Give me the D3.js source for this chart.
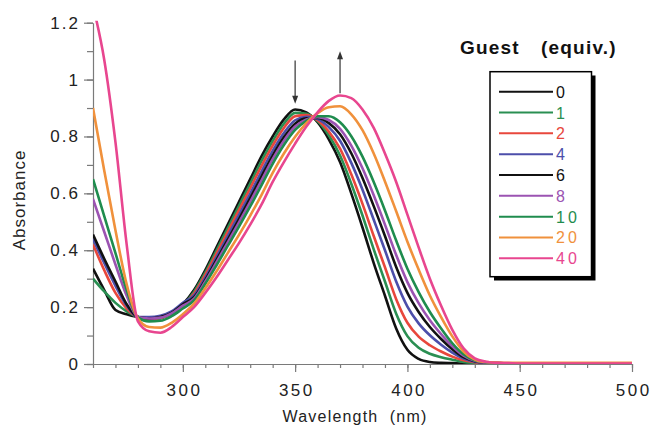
<!DOCTYPE html>
<html>
<head>
<meta charset="utf-8">
<script src="https://cdn.jsdelivr.net/npm/d3@7"></script>
<style>
  body { margin: 0; background: #fff; }
  text { font-family: "Liberation Sans", Arial, sans-serif; }
</style>
</head>
<body>
<div id="chart-area"></div>
<script>
// wavelength grid (nm)
const wavelengths = [260, 265, 270, 275, 280, 285, 290, 295, 300, 305, 310, 315, 320, 325, 330, 335, 340, 345, 350,
    355, 360, 365, 370, 375, 380, 385, 390, 395, 400, 405, 410, 415, 420, 425, 430, 435, 440, 445, 450, 475, 500];

// absorbance per guest equivalents
const g0 = [.335, .26, .19, .175, .165, .158, .162, .178, .21, .26, .33, .41, .49, .57, .65, .73, .80, .86, .895,
    .885, .85, .79, .71, .60, .48, .355, .24, .125, .05, .018, .007, .004, .003, .002, .002, .002, .002, .002, .002, .002, .002];
const g1 = [.30, .255, .215, .185, .165, .157, .16, .175, .205, .254, .322, .40, .478, .556, .634, .713, .784, .845, .883,
    .88, .854, .804, .733, .634, .522, .403, .29, .177, .098, .057, .036, .024, .015, .007, .004, .003, .002, .002, .002, .002, .002];
const g2 = [.42, .33, .25, .195, .165, .158, .162, .178, .205, .248, .314, .389, .465, .541, .618, .696, .768, .83, .871,
    .875, .857, .817, .757, .667, .563, .45, .34, .228, .145, .096, .066, .044, .026, .013, .006, .003, .002, .002, .002, .002, .002];
const g4 = [.44, .355, .275, .205, .165, .165, .17, .185, .215, .241, .304, .376, .45, .524, .599, .676, .749, .812, .857,
    .869, .861, .833, .785, .707, .613, .507, .40, .29, .202, .143, .101, .068, .04, .019, .008, .004, .003, .002, .002, .002, .002];
const g6 = [.455, .37, .29, .21, .165, .16, .165, .18, .21, .235, .296, .366, .437, .509, .583, .659, .733, .797, .845,
    .864, .865, .847, .808, .741, .654, .555, .45, .341, .25, .183, .13, .088, .052, .024, .01, .005, .003, .002, .002, .002, .002];
const g8 = [.58, .465, .35, .24, .165, .16, .163, .178, .205, .23, .29, .358, .428, .498, .57, .645, .72, .785, .835,
    .86, .868, .858, .827, .768, .688, .593, .49, .383, .288, .214, .154, .105, .062, .029, .011, .005, .003, .002, .002, .002, .002];
const g10 = [.65, .52, .39, .26, .163, .15, .152, .168, .195, .224, .282, .347, .415, .483, .554, .628, .704, .77, .823,
    .855, .871, .871, .85, .801, .729, .64, .54, .434, .335, .253, .183, .125, .073, .034, .013, .006, .003, .002, .002, .002, .002];
const g20 = [.90, .68, .47, .28, .16, .13, .128, .145, .175, .212, .266, .326, .39, .454, .522, .594, .672, .74, .799,
    .847, .882, .903, .906, .878, .822, .74, .642, .537, .43, .332, .241, .165, .097, .044, .016, .007, .005, .004, .004, .004, .004];
const g40 = [1.26, 1.07, .78, .42, .15, .115, .11, .13, .165, .20, .25, .305, .365, .425, .49, .56, .64, .71, .775,
    .835, .885, .925, .944, .935, .895, .83, .74, .64, .525, .41, .30, .205, .12, .055, .02, .008, .004, .003, .002, .002, .002];

const equivLabels = ["0", "1", "2", "4", "6", "8", "10", "20", "40"];
const seriesValues = [g0, g1, g2, g4, g6, g8, g10, g20, g40];
const colors = ["#111111", "#2a8f52", "#e8473c", "#4c4eaa", "#111111", "#9b53b2", "#1f8c4e", "#f0913c", "#e8468f"];

const xMajor = [300, 350, 400, 450, 500];
const yMajor = [0, 0.2, 0.4, 0.6, 0.8, 1, 1.2];
const yLabels = ["0", "0.2", "0.4", "0.6", "0.8", "1", "1.2"];

// arrows: [wavelength, from absorbance, to absorbance]
const arrows = [[350, 1.067, 0.915], [370, 0.952, 1.1]];

const W = 652, H = 427;
const margin = { top: 22.7, right: 20, bottom: 63, left: 93 };

const svg = d3.select("#chart-area").append("svg")
    .attr("width", W)
    .attr("height", H);

const x = d3.scaleLinear().domain([260, 500]).range([margin.left, 632]);
const y = d3.scaleLinear().domain([0, 1.2]).range([364, margin.top]);

svg.append("defs").append("clipPath")
    .attr("id", "plot-clip")
    .append("rect")
    .attr("x", x(260))
    .attr("y", y(1.2) - 2)
    .attr("width", x(500) - x(260) + 2)
    .attr("height", y(0) - y(1.2) + 2);

const axisColor = "#7a7a7a";

// minor ticks
svg.append("g")
    .attr("transform", `translate(0, ${y(0)})`)
    .call(d3.axisBottom(x).tickValues(d3.range(260, 501, 10)).tickSize(4).tickFormat(""))
    .call(g => g.select(".domain").remove());
svg.append("g")
    .attr("transform", `translate(${x(260)}, 0)`)
    .call(d3.axisLeft(y).tickValues(d3.range(0, 13, 1).map(d => d / 10)).tickSize(6).tickFormat(""))
    .call(g => g.select(".domain").remove());

// major axes
const xAxis = svg.append("g")
    .attr("transform", `translate(0, ${y(0)})`)
    .call(d3.axisBottom(x).tickValues(xMajor).tickSize(8).tickSizeOuter(0).tickPadding(12));
const yAxis = svg.append("g")
    .attr("transform", `translate(${x(260)}, 0)`)
    .call(d3.axisLeft(y).tickValues(yMajor).tickSize(9).tickSizeOuter(0).tickPadding(4)
        .tickFormat((d, i) => yLabels[i]));

svg.selectAll(".tick line, .domain").attr("stroke", axisColor).attr("stroke-width", 1.2);
xAxis.selectAll("text")
    .attr("font-size", 17)
    .attr("letter-spacing", "2.5px")
    .attr("dx", "1.2px")
    .attr("fill", "#222");
yAxis.selectAll("text")
    .attr("font-size", 17)
    .attr("letter-spacing", "2px")
    .attr("fill", "#222");

// curves
const line = d3.line()
    .x((d, i) => x(wavelengths[i]))
    .y(d => y(d))
    .curve(d3.curveMonotoneX);

svg.append("g")
    .attr("clip-path", "url(#plot-clip)")
    .selectAll("path")
    .data(seriesValues)
    .enter()
    .append("path")
    .attr("d", d => line(d))
    .attr("fill", "none")
    .attr("stroke", (d, i) => colors[i])
    .attr("stroke-width", 2.6)
    .attr("stroke-linejoin", "round");

// arrows
const arrowColor = "#333";
arrows.forEach(a => {
    const ax = x(a[0]), y1 = y(a[1]), y2 = y(a[2]);
    const dir = y2 > y1 ? 1 : -1;
    svg.append("line")
        .attr("x1", ax).attr("x2", ax)
        .attr("y1", y1).attr("y2", y2 - dir * 6)
        .attr("stroke", arrowColor)
        .attr("stroke-width", 1.2);
    svg.append("path")
        .attr("d", `M${ax},${y2} L${ax - 3},${y2 - dir * 8} L${ax + 3},${y2 - dir * 8} Z`)
        .attr("fill", arrowColor);
});

// axis labels
svg.append("text")
    .attr("x", 355)
    .attr("y", 422)
    .attr("text-anchor", "middle")
    .attr("font-size", 16)
    .attr("letter-spacing", "1.2px")
    .attr("fill", "#222")
    .style("white-space", "pre")
    .text("Wavelength  (nm)");

svg.append("text")
    .attr("transform", "translate(25, 200) rotate(-90)")
    .attr("text-anchor", "middle")
    .attr("font-size", 17)
    .attr("letter-spacing", "1px")
    .attr("fill", "#222")
    .text("Absorbance");

// legend
svg.append("text")
    .attr("x", 460).attr("y", 53.5)
    .attr("font-size", 19).attr("font-weight", "bold")
    .attr("letter-spacing", "1.2px")
    .attr("fill", "#111")
    .text("Guest");
svg.append("text")
    .attr("x", 541).attr("y", 53.5)
    .attr("font-size", 19).attr("font-weight", "bold")
    .attr("letter-spacing", "1.2px")
    .attr("fill", "#111")
    .text("(equiv.)");

const legend = svg.append("g");
legend.append("rect")
    .attr("x", 494).attr("y", 75.5)
    .attr("width", 101.5).attr("height", 205)
    .attr("fill", "#000");
legend.append("rect")
    .attr("x", 490).attr("y", 71.7)
    .attr("width", 101.5).attr("height", 205)
    .attr("fill", "#fff")
    .attr("stroke", "#000")
    .attr("stroke-width", 1.5);

const rowY = d3.scaleLinear().domain([0, 8]).range([91.7, 258.3]);
const items = legend.selectAll(".item")
    .data(equivLabels)
    .enter()
    .append("g")
    .attr("class", "item")
    .attr("transform", (d, i) => `translate(0, ${rowY(i)})`);
items.append("line")
    .attr("x1", 499).attr("x2", 553)
    .attr("stroke", (d, i) => colors[i])
    .attr("stroke-width", 2);
items.append("text")
    .attr("x", 556)
    .attr("y", 6)
    .attr("font-size", 16)
    .attr("letter-spacing", "3px")
    .attr("fill", (d, i) => colors[i])
    .text(d => d);
</script>
</body>
</html>
